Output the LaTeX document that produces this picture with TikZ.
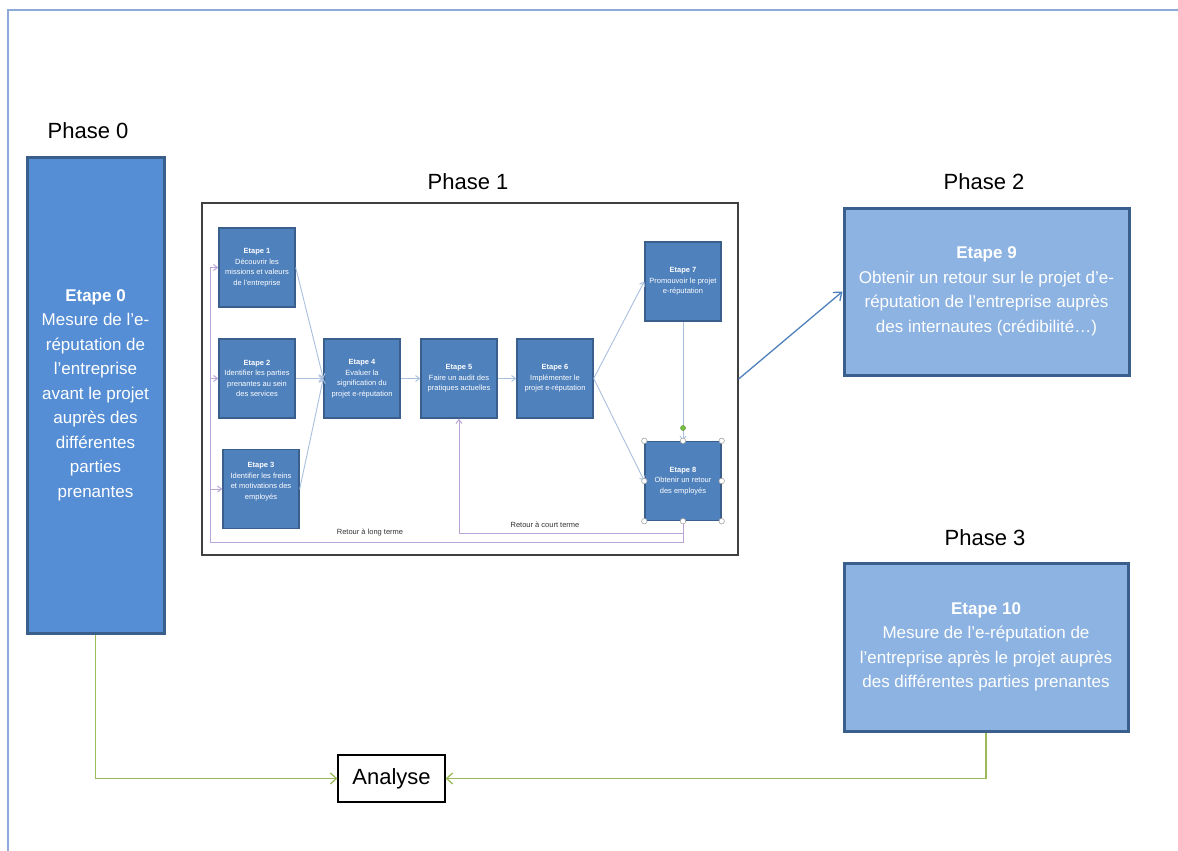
\documentclass[tikz,border=0pt]{standalone}
\usepackage{fontspec}
\setmainfont{Liberation Sans}
\usetikzlibrary{arrows.meta}
\definecolor{frameblue}{HTML}{8EAADB}
\definecolor{boxdark}{HTML}{3A5F8C}
\definecolor{fillA}{HTML}{558ED5}
\definecolor{fillB}{HTML}{4F81BD}
\definecolor{fillC}{HTML}{8DB3E2}
\definecolor{lightarrow}{HTML}{A9C0DF}
\definecolor{purpleline}{HTML}{B9A5D6}
\definecolor{greenline}{HTML}{9BBB59}
\definecolor{arrowblue}{HTML}{4F81BD}
\definecolor{handlegreen}{HTML}{7AC143}
\tikzset{
  bigbox/.style={draw=boxdark, line width=3pt, text=white, align=center,
    font=\fontsize{17}{24.5}\selectfont, inner sep=0pt},
  stepbox/.style={draw=boxdark, fill=fillB, line width=1.4pt, text=white, align=center,
    font=\fontsize{7.5}{10.6}\selectfont, inner sep=0pt, minimum width=76, minimum height=79},
  phaselabel/.style={font=\fontsize{22}{26}\selectfont, text=black, inner sep=0pt},
  thinarrow/.style={draw=lightarrow, line width=0.9pt, -{Straight Barb[length=4pt,width=6pt]}},
  fbarrow/.style={draw=purpleline, line width=1pt, -{Straight Barb[length=4pt,width=6pt]}},
  fbline/.style={draw=purpleline, line width=1pt},
  greenarrow/.style={draw=greenline, line width=1.3pt, -{Straight Barb[length=6pt,width=11pt]}},
  handle/.style={circle, draw=gray!70, fill=white, line width=0.6pt, minimum size=5.5pt, inner sep=0pt},
  smalllabel/.style={font=\fontsize{7.5}{9}\selectfont, text=black!80, inner sep=0pt}
}
\begin{document}
\begin{tikzpicture}[x=1pt,y=-1pt]
\useasboundingbox[fill=white] (0,0) rectangle (1178,851);
% outer frame
\draw[frameblue, line width=1.2pt] (8,851) -- (8,10) -- (1178,10);

% phase labels
\node[phaselabel] (ph0) at (88,131) {Phase 0};
\node[phaselabel] (ph1) at (468,182) {Phase 1};
\node[phaselabel] (ph2) at (984,182) {Phase 2};
\node[phaselabel] (ph3) at (985,538) {Phase 3};

% Phase 0 box
\node[bigbox, fill=fillA, minimum width=137, minimum height=476] (e0) at (95.5,395)
  {\textbf{Etape 0}\\Mesure de l’e-\\réputation de\\l’entreprise\\avant le projet\\auprès des\\différentes\\parties\\prenantes};

% Phase 1 frame
\node[draw=black!75, line width=1.3pt, minimum width=536, minimum height=352, inner sep=0pt] (p1) at (470,379) {};

% steps
\node[stepbox] (e1) at (257,267.5) {\textbf{Etape 1}\\Découvrir les\\missions et valeurs\\de l’entreprise};
\node[stepbox] (e2) at (257,378.5) {\textbf{Etape 2}\\Identifier les parties\\prenantes au sein\\des services};
\node[stepbox] (e3) at (261,489) {\textbf{Etape 3}\\Identifier les freins\\et motivations des\\employés\\[6pt]};
\node[stepbox] (e4) at (362,378.5) {\textbf{Etape 4}\\Evaluer la\\signification du\\projet e-réputation};
\node[stepbox] (e5) at (459,378.5) {\textbf{Etape 5}\\Faire un audit des\\pratiques actuelles};
\node[stepbox] (e6) at (555,378.5) {\textbf{Etape 6}\\Implémenter le\\projet e-réputation};
\node[stepbox] (e7) at (683,281.5) {\textbf{Etape 7}\\Promouvoir le projet\\e-réputation};
\node[stepbox] (e8) at (683,481) {\textbf{Etape 8}\\Obtenir un retour\\des employés};

% step arrows
\draw[thinarrow] (e1.east) -- (e4.west);
\draw[thinarrow] (e2.east) -- (e4.west);
\draw[thinarrow] (e3.east) -- (e4.west);
\draw[thinarrow] (e4.east) -- (e5.west);
\draw[thinarrow] (e5.east) -- (e6.west);
\draw[thinarrow] (e6.east) -- (e7.west);
\draw[thinarrow] (e6.east) -- (e8.west);
\draw[thinarrow] (e7.south) -- (e8.north);

% feedback loops
\coordinate (lt) at (210,542);
\coordinate (st) at (459,533);
\draw[fbarrow] (e8.south) |- (st) -- (e5.south);
\draw[fbarrow] (e8.south) |- (lt) |- (e1.west);
\draw[fbarrow] (lt |- e2.west) -- (e2.west);
\draw[fbarrow] (lt |- e3.west) -- (e3.west);
\node[smalllabel] (lblong) at (370,533) {Retour à long terme};
\node[smalllabel] (lbshort) at (545,525) {Retour à court terme};

% selection handles on Etape 8
\foreach \a in {north west,north,north east,west,east,south west,south,south east}
  \node[handle] at (e8.\a) {};
\node[circle, fill=handlegreen, draw=handlegreen!70!black, line width=0.4pt, minimum size=5pt, inner sep=0pt] (rot) at (683,428) {};

% Phase 2 box
\node[bigbox, fill=fillC, minimum width=285, minimum height=167] (e9) at (986.5,291.5)
  {\textbf{Etape 9}\\Obtenir un retour sur le projet d’e-\\réputation de l’entreprise auprès\\des internautes (crédibilité…)};
\draw[draw=arrowblue, line width=1.3pt, -{Straight Barb[length=7pt,width=11pt]}] (p1.east) -- (e9.west);

% Phase 3 box
\node[bigbox, fill=fillC, minimum width=284, minimum height=168] (e10) at (986,647)
  {\textbf{Etape 10}\\Mesure de l’e-réputation de\\l’entreprise après le projet auprès\\des différentes parties prenantes};

% Analyse
\node[draw=black, line width=1.3pt, fill=white, minimum width=107, minimum height=47, inner sep=0pt,
  font=\fontsize{22}{26}\selectfont] (an) at (391.5,778.5) {Analyse};
\draw[greenarrow] (e0.south) |- (an.west);
\draw[greenarrow] (e10.south) |- (an.east);
\end{tikzpicture}
\end{document}
